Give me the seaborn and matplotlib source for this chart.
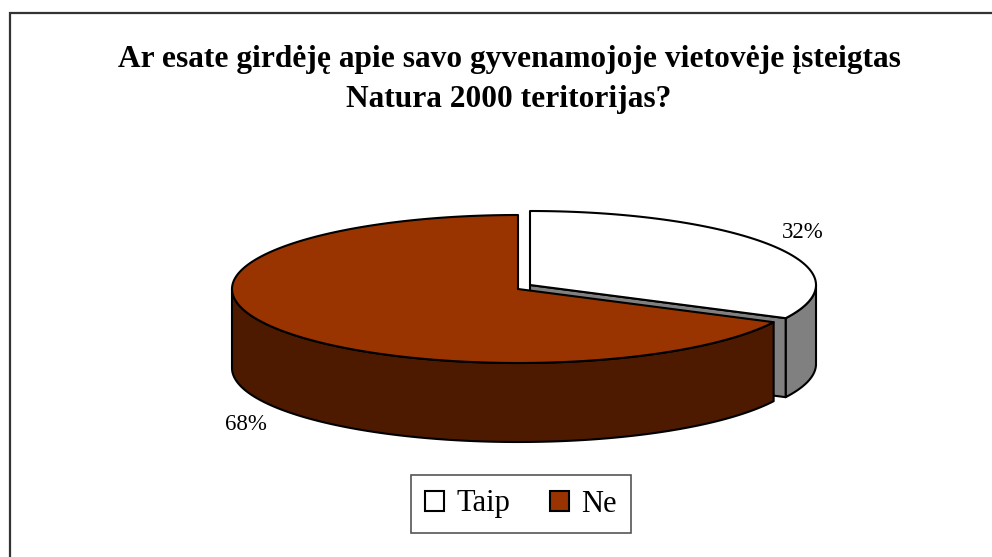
import numpy as np
import matplotlib
matplotlib.use("Agg")
import matplotlib.pyplot as plt
from matplotlib.patches import Polygon, Patch
import seaborn as sns

categories = ["Taip", "Ne"]
shares = [32.4, 67.6]
labels = ["32%", "68%"]
title = "Ar esate girdėję apie savo gyvenamojoje vietovėje įsteigtas\nNatura 2000 teritorijas?"

sns.set_theme(style="white")
plt.rcParams["font.family"] = ["Liberation Serif", "DejaVu Serif"]

top_colors = sns.color_palette(["#FFFFFF", "#993300"])
side_colors = sns.color_palette(["#808080", "#4D1A00"])

W, H = 992, 557
fig = plt.figure(figsize=(W / 100, H / 100), dpi=100, facecolor="white")
ax = fig.add_axes([0, 0, 1, 1])
ax.set_xlim(0, W)
ax.set_ylim(H, 0)
ax.axis("off")

RX, RY, DEPTH = 286, 74, 79
LW = 1.5
EDGE = "black"


def rim(cx, cy, a0, a1, drop=0.0):
    """Ellipse points for clockwise-from-top angles in degrees."""
    t = np.radians(np.linspace(a0, a1, 240))
    return np.column_stack([cx + RX * np.sin(t), cy - RY * np.cos(t) + drop])


def shape(pts, color, z):
    ax.add_patch(Polygon(pts, closed=True, facecolor=color, edgecolor=EDGE,
                         linewidth=LW, joinstyle="round", zorder=z))


split = 360 * shares[0] / sum(shares)

# Taip slice, pulled out to the upper right
c0 = (530, 285)
front = rim(*c0, 90, split)
shape(np.vstack([front, rim(*c0, split, 90, DEPTH)]), side_colors[0], 1)
tip = rim(*c0, split, split)[0]
shape([c0, tip, tip + [0, DEPTH], (c0[0], c0[1] + DEPTH)], side_colors[0], 2)
shape(np.vstack([[c0], rim(*c0, 0, split)]), top_colors[0], 3)

# Ne slice
c1 = (518, 289)
front = rim(*c1, split, 270)
shape(np.vstack([front, rim(*c1, 270, split, DEPTH)]), side_colors[1], 4)
shape(np.vstack([[c1], rim(*c1, split, 360)]), top_colors[1], 5)

ax.text(803, 232, labels[0], fontsize=16.5, color="black", ha="center", va="center", zorder=6)
ax.text(246, 424, labels[1], fontsize=16.5, color="black", ha="center", va="center", zorder=6)

ax.text(509, 80, title, fontsize=22.6, fontweight="bold", color="black",
        ha="center", va="center", linespacing=1.5, zorder=6)

handles = [Patch(facecolor=top_colors[i], edgecolor="black", linewidth=1.5, label=categories[i])
           for i in range(2)]
leg = ax.legend(handles=handles, loc="center", bbox_to_anchor=(521 / W, 1 - 504 / H),
                ncol=2, fontsize=22, frameon=True, fancybox=False, framealpha=1,
                edgecolor="#555555", handlelength=0.62, handleheight=0.62, labelcolor="black",
                handletextpad=0.4, columnspacing=1.3, borderpad=0.47, borderaxespad=0)
leg.get_frame().set_linewidth(1.2)

# Chart area frame: only the top and left edges fall inside the picture
ax.plot([10, 10, W], [H, 13, 13], color="#333333", linewidth=1.6, zorder=0,
        solid_joinstyle="miter")

fig.savefig("out.png", dpi=100, facecolor="white")
